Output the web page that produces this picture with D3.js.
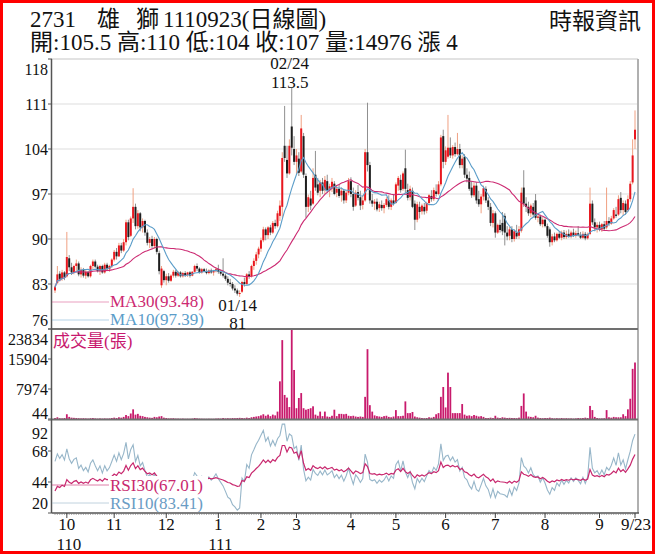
<!DOCTYPE html>
<html><head><meta charset="utf-8">
<script src="https://cdn.jsdelivr.net/npm/d3@7"></script>
<style>body{margin:0;background:#fff}svg{display:block}</style>
</head><body>
<svg id="c" width="656" height="555"></svg>
<script>
// ---- data ----
const opens=[82.0,83.2,84.6,83.8,84.8,84.2,87.0,85.6,84.8,85.8,86.2,84.5,85.2,84.3,84.9,84.2,85.8,86.5,85.7,85.0,85.8,84.8,86.0,85.3,85.8,
86.8,88.0,87.3,89.0,88.2,89.5,92.6,90.5,93.2,95.0,92.0,94.0,91.8,92.8,91.0,89.4,90.0,88.9,90.0,87.8,82.8,85.0,
83.6,84.2,83.5,84.3,84.9,84.3,84.8,84.2,84.7,84.4,84.8,84.3,84.9,85.8,85.4,84.8,85.3,85.0,84.7,85.1,84.8,85.0,
85.3,84.9,84.6,84.3,83.8,83.2,83.0,82.3,82.0,81.5,81.8,83.3,83.0,84.5,84.2,85.8,86.6,87.6,
88.5,89.8,91.5,90.6,91.8,91.0,92.5,92.0,93.6,95.0,104.5,102.3,100.2,107.5,104.0,
102.0,102.5,100.5,106.0,99.8,95.0,96.3,95.5,100.0,98.5,97.5,98.8,97.6,99.0,97.6,98.0,98.6,97.2,97.8,96.8,97.5,96.0,97.2,
99.0,97.0,95.2,97.3,96.5,95.3,96.0,103.5,101.5,96.0,95.5,95.8,94.8,95.3,94.8,95.3,96.0,95.0,96.0,
95.6,98.3,99.2,97.8,101.0,97.6,96.5,97.5,95.5,93.0,95.0,94.3,95.0,94.4,95.6,96.7,96.2,97.4,97.0,98.5,106.0,
102.0,102.8,104.2,103.0,104.3,103.2,104.0,101.5,102.8,100.0,99.5,98.0,96.8,98.3,96.2,95.4,96.6,97.8,96.0,95.0,92.5,
94.0,91.0,92.2,92.5,93.6,91.0,90.5,91.5,90.0,91.0,90.5,91.3,98.0,95.5,95.0,94.0,95.0,96.0,93.3,93.5,92.3,
93.0,92.0,91.5,89.5,90.4,89.8,90.8,90.2,91.0,90.3,90.8,90.4,91.0,90.5,90.9,90.6,90.2,90.8,90.1,90.8,95.5,92.6,91.8,
92.2,91.5,92.3,91.8,92.8,92.4,93.2,93.8,93.8,96.4,94.5,95.5,94.5,96.2,98.8,105.5];
const highs=[82.8,85.8,85.0,85.2,85.0,91.1,87.5,86.3,86.0,86.8,86.5,85.6,85.5,85.2,85.0,86.0,86.8,86.8,86.0,86.0,86.0,86.3,86.3,86.0,87.0,
88.3,88.6,89.4,89.4,90.0,93.0,93.0,93.5,97.9,95.5,94.5,94.2,93.2,93.0,91.5,90.3,90.5,90.3,90.2,88.2,85.8,85.2,
84.6,84.7,84.5,85.2,85.2,85.0,85.0,84.9,85.0,84.9,85.0,85.0,86.0,86.2,85.6,85.5,85.5,85.4,85.3,85.4,85.2,85.6,
86.0,85.2,87.0,84.6,84.2,83.8,83.3,82.8,82.3,82.0,83.5,84.0,84.7,85.0,86.0,87.0,88.0,88.8,
90.2,91.9,91.8,92.0,92.2,92.8,93.0,94.4,96.0,103.5,110.7,104.5,105.5,113.5,106.0,
104.0,103.5,109.3,106.5,100.2,96.9,97.5,101.0,103.7,99.5,99.2,99.5,99.8,100.0,98.6,99.5,99.0,98.4,98.5,98.0,97.8,97.5,99.5,
99.6,98.0,97.6,98.4,97.5,96.8,104.0,111.2,102.0,97.0,96.2,96.3,95.8,96.0,95.6,96.5,96.8,96.3,97.0,
98.8,99.8,100.0,100.5,103.9,98.6,98.3,98.0,96.0,95.8,95.8,95.5,95.6,95.8,97.0,97.6,98.0,98.5,99.0,106.2,107.0,
104.4,109.3,105.8,104.6,105.0,106.5,104.8,103.0,103.2,101.0,100.5,99.0,98.8,98.8,97.5,97.0,98.3,98.2,96.5,95.6,94.5,
94.3,92.4,93.0,94.2,94.0,92.0,91.9,92.0,91.5,92.2,92.0,98.0,100.7,96.5,95.8,95.5,95.6,97.0,94.0,93.8,93.4,
93.2,92.4,91.8,90.8,91.0,91.0,91.2,91.3,91.4,91.3,91.5,91.3,91.6,91.3,92.0,91.1,91.2,91.1,91.0,98.0,96.0,93.2,92.6,
92.7,92.5,92.8,98.0,93.4,93.6,94.8,95.0,96.8,97.3,96.0,96.0,96.8,99.0,105.5,110.0];
const lows=[81.6,83.0,83.4,83.5,83.6,84.0,85.0,84.4,84.5,85.0,84.2,84.0,84.0,83.8,84.0,84.0,85.3,85.5,84.8,84.4,84.6,84.6,85.0,84.9,85.5,
86.5,86.8,87.2,87.8,88.0,89.0,89.8,90.3,92.5,91.5,91.6,91.2,91.0,90.5,89.0,88.6,88.6,88.5,87.6,84.5,82.4,83.2,
82.8,83.2,83.3,84.0,84.0,84.1,84.0,84.0,84.1,84.1,84.0,84.2,84.8,85.0,84.6,84.6,84.8,84.5,84.5,84.6,84.3,84.8,
84.6,84.3,84.0,83.5,82.8,82.6,82.0,81.6,81.2,81.0,81.6,82.6,82.8,83.8,84.0,85.2,86.0,87.0,
88.0,89.5,89.8,90.0,90.6,90.8,91.6,91.8,92.8,93.3,102.0,99.5,100.0,103.0,101.5,
100.0,99.8,100.3,99.5,93.3,94.2,94.5,95.3,97.5,96.8,96.5,97.0,97.0,97.2,96.5,97.3,96.8,96.5,96.4,95.8,95.5,95.6,96.8,
96.5,94.4,95.0,96.0,94.5,94.6,95.8,100.5,95.5,95.0,94.5,94.3,94.2,94.4,94.0,95.0,94.6,94.5,95.2,
95.5,97.5,97.2,97.5,97.2,96.0,96.0,94.8,91.4,92.6,93.2,93.8,93.8,94.0,95.2,95.8,95.9,96.6,96.8,98.2,101.0,
101.5,102.5,102.6,102.5,102.8,103.0,101.0,101.0,99.5,98.8,97.5,96.4,96.5,95.5,95.0,94.0,96.0,95.6,94.5,92.0,91.8,
90.2,90.8,91.0,90.6,89.0,89.8,89.8,89.5,89.6,90.0,90.0,91.0,95.0,94.2,93.6,93.4,93.4,93.0,92.6,92.0,91.8,
91.8,90.2,88.8,89.0,89.5,89.6,90.0,89.8,90.0,90.0,90.2,90.1,90.3,90.2,90.4,90.0,90.0,89.8,89.9,90.6,92.2,91.2,91.0,
91.2,91.1,91.3,91.5,92.0,92.2,93.0,93.3,93.6,94.0,93.7,93.8,94.2,95.8,98.5,104.0];
const closes=[82.5,84.5,83.8,84.8,84.0,87.2,85.6,84.8,85.8,86.2,84.5,85.2,84.3,84.9,84.2,85.8,86.5,85.7,85.0,85.8,84.8,86.0,85.3,85.8,86.8,
88.0,87.3,89.0,88.2,89.5,92.6,90.3,93.2,95.0,92.0,94.0,91.8,92.8,91.0,89.4,90.0,88.9,90.0,88.0,85.0,85.4,83.6,
84.2,83.5,84.3,84.9,84.3,84.8,84.2,84.7,84.4,84.8,84.3,84.9,85.8,85.4,84.8,85.3,85.0,84.7,85.1,84.8,85.0,85.3,
84.9,84.6,84.3,83.8,83.2,83.0,82.3,82.0,81.5,81.6,83.3,83.0,84.5,84.2,85.8,86.6,87.6,88.5,
89.8,91.5,90.6,91.8,91.0,92.5,92.0,94.0,95.2,102.6,102.6,100.2,104.5,104.2,102.0,
103.0,100.3,107.2,100.0,95.0,96.5,95.2,99.5,98.0,97.2,98.8,97.5,99.2,97.6,98.2,98.9,97.0,97.8,96.7,97.5,96.0,97.2,99.0,
97.0,95.0,97.2,96.4,95.2,96.0,103.5,101.5,96.0,95.5,95.8,94.6,95.4,94.8,95.3,96.2,95.0,96.0,95.5,
98.5,99.5,97.6,100.2,97.8,96.4,97.8,95.0,93.0,95.4,94.2,95.2,94.3,95.6,96.8,96.2,97.6,97.0,98.5,105.8,102.0,
103.8,104.2,103.0,104.3,103.2,104.0,101.5,102.5,100.0,99.4,97.8,96.8,98.3,96.0,95.4,96.6,97.9,96.0,95.0,92.5,94.0,
91.0,92.2,91.4,91.2,91.0,90.4,91.5,90.0,91.2,90.4,91.5,97.2,95.5,95.0,94.0,95.2,93.8,93.3,93.5,92.3,93.0,
92.0,90.5,89.5,90.4,89.8,90.8,90.2,91.0,90.3,90.8,90.4,91.0,90.5,90.9,90.6,90.2,90.8,90.1,90.7,95.5,92.6,91.8,92.2,
91.5,92.3,91.6,92.8,92.4,93.2,94.5,93.6,96.2,94.5,95.6,94.2,96.2,98.6,103.0,107.0];
const volumes=[300,500,250,200,300,1300,600,400,350,300,250,200,250,200,150,250,300,200,150,200,150,200,150,200,300,
400,300,500,400,600,1100,800,1500,2600,1200,1400,900,800,600,500,400,350,600,500,700,800,400,
300,200,200,250,150,150,120,150,100,120,100,150,300,200,150,120,100,100,120,100,100,150,
200,150,300,200,250,200,300,250,300,350,300,250,400,300,500,600,700,800,
1000,1300,900,1200,800,1200,1000,2000,10000,20900,6400,5700,3200,23834,13000,
2900,5600,6900,2900,2500,2700,2900,3400,1200,900,2000,800,2000,700,600,900,2500,800,1400,1400,1300,1400,900,
800,900,700,600,700,600,5900,18500,3700,2000,1000,800,700,600,800,900,600,500,700,
2400,800,800,900,4700,1600,1600,1900,700,500,400,300,250,300,500,400,600,1300,1600,5900,8500,
3100,12300,8500,1600,1600,1600,1600,4000,1200,900,1000,800,1100,900,700,800,600,300,300,400,300,
900,400,300,500,400,300,350,300,300,250,400,3500,6800,2000,700,600,500,900,400,300,250,
300,300,400,250,200,250,200,300,200,250,200,200,150,200,300,250,300,400,300,3500,2400,600,300,
200,200,250,2400,500,400,600,500,500,500,1300,800,2600,5400,13300,14976];
// RSI levels at the first day of the window
const rsiStart={30:37,10:60};
// months: trailing Sep-2021 days, then Oct..Sep
const monthLabels=["","10","11","12","1","2","3","4","5","6","7","8","9"];
const monthDays=[5,20,22,22,18,15,23,19,21,21,21,23,16];
const yearLabels={"10":"110","1":"111"};
const lastLabel="9/23";
const priceTicks=[118,111,104,97,90,83,76];
const volTicks=[23834,15904,7974,44];
const rsiTicks=[92,68,44,20];
const titleParts=["2731","雄","獅","1110923(日線圖)"];
const titleLine2="開:105.5 高:110 低:104 收:107 量:14976 漲 4";
const brand="時報資訊";
const maLegend=[{name:"MA30",value:"93.48",n:30},{name:"MA10",value:"97.39",n:10}];
const rsiLegend=[{name:"RSI30",value:"67.01",n:30},{name:"RSI10",value:"83.41",n:10}];
const peak={date:"02/24",value:"113.5",idx:100};
const trough={date:"01/14",value:"81",idx:78};

// ---- drawing ----
const SERIF="'Liberation Serif','Times New Roman','Noto Sans CJK TC',serif";
const svg=d3.select("#c");
const n=closes.length;
const L=52,R=638,pTop=59,pBot=329,vTop=329,vBot=419,rTop=420,rBot=513;
const x=d3.scalePoint().domain(d3.range(n)).range([55,635]);
const yP=d3.scaleLinear().domain([76,118]).range([pBot,pTop]);
const yV=d3.scaleLinear().domain([44,23834]).range([vBot,vTop]);
const yR=d3.scaleLinear().domain([20,92]).range([rBot,rTop]);
const MA30C="#cc2a72",MA10C="#5b9dc9",RSI30C="#c8286e",RSI10C="#97b6c9";

svg.append("rect").attr("width",656).attr("height",555).attr("fill","#fff");
const defs=svg.append("defs");
defs.append("clipPath").attr("id","cp").append("rect").attr("x",L).attr("y",pTop).attr("width",R-L).attr("height",pBot-pTop);
defs.append("clipPath").attr("id","cr").append("rect").attr("x",L).attr("y",rTop).attr("width",R-L).attr("height",rBot-rTop);

// price gridlines
svg.append("g").selectAll("line").data(priceTicks.slice(1,-1)).join("line")
 .attr("x1",L).attr("x2",R).attr("y1",d=>yP(d)).attr("y2",d=>yP(d)).attr("stroke","#dedede").attr("stroke-width",1.2);

// candles
const gc=svg.append("g").attr("clip-path","url(#cp)");
const up=i=>closes[i]>=opens[i];
gc.selectAll("line").data(d3.range(n)).join("line")
 .attr("x1",i=>x(i)).attr("x2",i=>x(i)).attr("y1",i=>yP(highs[i])).attr("y2",i=>yP(lows[i]))
 .attr("stroke",i=>up(i)?"#f0a082":"#8f8f8f").attr("stroke-width",1);
gc.selectAll("rect").data(d3.range(n)).join("rect")
 .attr("x",i=>x(i)-1).attr("width",2)
 .attr("y",i=>yP(Math.max(opens[i],closes[i])))
 .attr("height",i=>Math.max(1,Math.abs(yP(opens[i])-yP(closes[i]))))
 .attr("fill",i=>up(i)?"#e8171f":"#1e1e1e");

// moving averages
function ma(k){return closes.map((c,i)=>d3.mean(closes.slice(Math.max(0,i-k+1),i+1)));}
const line=(sc)=>d3.line().x((d,i)=>x(i)).y(d=>sc(d)).defined(d=>d!=null);
gc.append("path").datum(ma(30)).attr("d",line(yP)).attr("fill","none").attr("stroke",MA30C).attr("stroke-width",1.1);
gc.append("path").datum(ma(10)).attr("d",line(yP)).attr("fill","none").attr("stroke",MA10C).attr("stroke-width",1.1);

// volume bars
svg.append("g").selectAll("rect").data(d3.range(n)).join("rect")
 .attr("x",i=>x(i)-0.9).attr("width",1.8).attr("y",i=>yV(volumes[i])).attr("height",i=>vBot-yV(volumes[i]))
 .attr("fill","#c81a6c");

// RSI (Wilder smoothing, seeded from the starting level)
function rsi(k){
 const ch=d3.range(1,Math.min(n,k+1)).map(i=>Math.abs(closes[i]-closes[i-1]));
 const mv=d3.mean(ch);const r0=rsiStart[k]/100;
 let ag=mv*r0,al=mv*(1-r0);const out=[rsiStart[k]];
 for(let i=1;i<n;i++){const d=closes[i]-closes[i-1];const g=Math.max(d,0),l=Math.max(-d,0);
  ag=(ag*(k-1)+g)/k;al=(al*(k-1)+l)/k;
  out.push(al===0?100:100-100/(1+ag/al));}
 return out;}
const gr=svg.append("g").attr("clip-path","url(#cr)");
gr.append("path").datum(rsi(10)).attr("d",line(yR)).attr("fill","none").attr("stroke",RSI10C).attr("stroke-width",1.1);
gr.append("path").datum(rsi(30)).attr("d",line(yR)).attr("fill","none").attr("stroke",RSI30C).attr("stroke-width",1.2);

// frames
svg.append("line").attr("x1",L).attr("x2",R).attr("y1",pTop).attr("y2",pTop).attr("stroke","#d8d8d8").attr("stroke-width",1.5);
svg.append("line").attr("x1",R).attr("x2",R).attr("y1",pTop).attr("y2",rBot).attr("stroke","#b0b0b0").attr("stroke-width",2);
[pBot,rTop-0.5].forEach(y=>svg.append("line").attr("x1",L).attr("x2",R).attr("y1",y).attr("y2",y).attr("stroke","#707070").attr("stroke-width",2));
svg.append("line").attr("x1",L).attr("x2",R+1).attr("y1",rBot).attr("y2",rBot).attr("stroke","#555").attr("stroke-width",1.5);
svg.append("line").attr("x1",L-0.5).attr("x2",L-0.5).attr("y1",pTop).attr("y2",rBot).attr("stroke","#555").attr("stroke-width",1.5);

// y tick labels
function yLabels(ticks,sc,lo,hi){
 const g=svg.append("g");
 ticks.forEach(t=>{const y=sc(t);
  g.append("line").attr("x1",L-4).attr("x2",L).attr("y1",y).attr("y2",y).attr("stroke","#555");
  g.append("text").attr("x",48).attr("y",Math.min(hi,Math.max(lo,y))).attr("dy","0.35em").attr("text-anchor","end")
   .attr("font-family",SERIF).attr("font-size",16).attr("fill","#111").text(t);});
}
yLabels(priceTicks,yP,pTop+10,pBot-9);
yLabels(volTicks,yV,vTop+10,vBot-6);
yLabels(rsiTicks,yR,rTop+13,rBot-10);

// x axis ticks + labels
const gx=svg.append("g");
gx.selectAll("line").data(d3.range(n)).join("line").attr("x1",i=>x(i)).attr("x2",i=>x(i)).attr("y1",rBot).attr("y2",rBot+2).attr("stroke","#777").attr("stroke-width",0.6);
let start=0;
monthDays.forEach((c,k)=>{const lab=monthLabels[k];
 if(lab){const xx=x(start);
  gx.append("line").attr("x1",xx).attr("x2",xx).attr("y1",rBot).attr("y2",rBot+5).attr("stroke","#444");
  gx.append("text").attr("x",xx).attr("y",530).attr("text-anchor","middle").attr("font-family",SERIF).attr("font-size",17).attr("fill","#111").text(lab);
  if(yearLabels[lab]) gx.append("text").attr("x",xx+2).attr("y",550).attr("text-anchor","middle").attr("font-family",SERIF).attr("font-size",17).attr("fill","#111").text(yearLabels[lab]);}
 start+=c;});
gx.append("line").attr("x1",x(n-1)).attr("x2",x(n-1)).attr("y1",rBot).attr("y2",rBot+5).attr("stroke","#444");
gx.append("text").attr("x",x(n-1)+1).attr("y",530).attr("text-anchor","middle").attr("font-family",SERIF).attr("font-size",17).attr("fill","#111").text(lastLabel);

// legends
const lg=svg.append("g").attr("font-family",SERIF).attr("font-size",17);
[[maLegend[0],MA30C,302,307],[maLegend[1],MA10C,320,325]].forEach(([d,c,ly,ty])=>{
 lg.append("line").attr("x1",L).attr("x2",109).attr("y1",ly).attr("y2",ly).attr("stroke",c).attr("stroke-opacity",0.45);
 lg.append("text").attr("x",110).attr("y",ty).attr("fill",c).text(`${d.name}(${d.value})`);});
lg.append("rect").attr("x",108).attr("y",476).attr("width",100).attr("height",36).attr("fill","#fff");
[[rsiLegend[0],RSI30C,485,491],[rsiLegend[1],RSI10C,503,509]].forEach(([d,c,ly,ty])=>{
 lg.append("line").attr("x1",L).attr("x2",109).attr("y1",ly).attr("y2",ly).attr("stroke",c).attr("stroke-opacity",0.6);
 lg.append("text").attr("x",110).attr("y",ty).attr("fill",c==RSI10C?"#6a9cc4":c).text(`${d.name}(${d.value})`);});
lg.append("text").attr("x",53).attr("y",347).attr("fill","#c8186e").text("成交量(張)");

// peak / trough annotations
const an=svg.append("g").attr("font-family",SERIF).attr("font-size",17).attr("fill","#111").attr("text-anchor","middle");
an.append("text").attr("x",x(peak.idx)-2).attr("y",69).text(peak.date);
an.append("text").attr("x",x(peak.idx)-2).attr("y",88).text(peak.value);
an.append("text").attr("x",x(trough.idx)-2).attr("y",311).text(trough.date);
an.append("text").attr("x",x(trough.idx)-2).attr("y",329).text(trough.value);

// header
const hd=svg.append("g").attr("font-family",SERIF).attr("font-size",23).attr("fill","#111");
const tx=[30,97,136,163];
titleParts.forEach((t,i)=>hd.append("text").attr("x",tx[i]).attr("y",27).text(t));
hd.append("text").attr("x",30).attr("y",50).text(titleLine2);
hd.append("text").attr("x",641).attr("y",29).attr("text-anchor","end").text(brand);

// outer red frame
svg.append("rect").attr("x",1.5).attr("y",1.5).attr("width",652).attr("height",551).attr("fill","none").attr("stroke","#ff0000").attr("stroke-width",3);
</script>
</body></html>
